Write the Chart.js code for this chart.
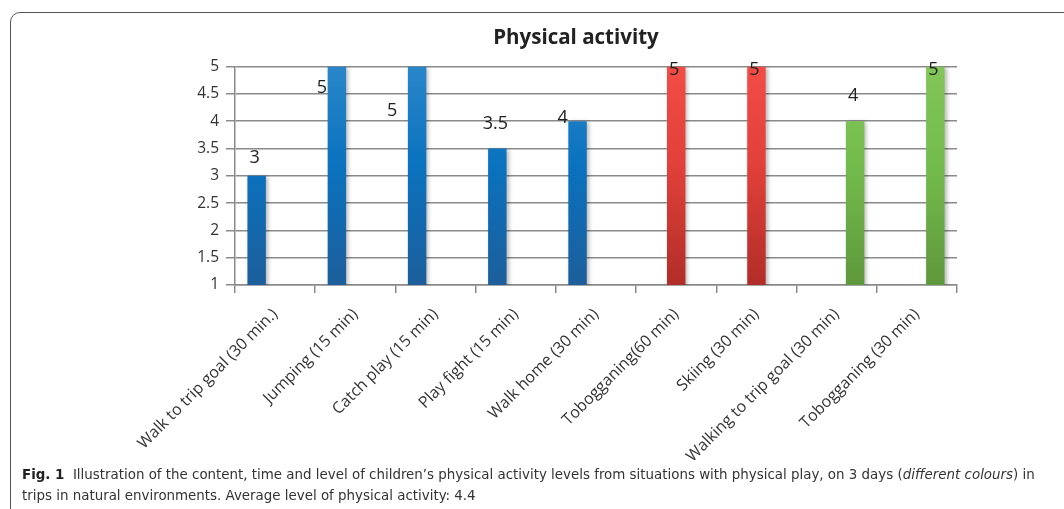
<!DOCTYPE html>
<html>
<head>
<meta charset="utf-8">
<script src="https://cdn.jsdelivr.net/npm/chart.js@4.4.0/dist/chart.umd.min.js"></script>
<style>
  html, body { margin: 0; padding: 0; background: #fff; overflow: hidden; }
  body { width: 1064px; height: 509px; position: relative; }
  #frame {
    position: absolute; left: 10px; top: 12px; width: 1100px; height: 560px;
    border: 1px solid #555; border-radius: 10px; box-sizing: border-box;
  }
  #wrap { position: absolute; left: 74px; top: 14px; width: 990px; height: 470px; }
  #caption {
    position: absolute; left: 22px; top: 464px; width: 1042px;
    font-family: "DejaVu Sans Condensed", "Liberation Sans Narrow", "Open Sans", sans-serif;
    font-size: 14.9px; line-height: 21px; color: #333;
  }
  #caption b { color: #222; }
</style>
</head>
<body>
<div id="frame"></div>
<div id="wrap"><canvas id="activityChart"></canvas></div>
<div id="caption"><b>Fig. 1</b>&nbsp; Illustration of the content, time and level of children’s physical activity levels from situations with physical play, on 3 days (<i>different colours</i>) in trips in natural environments. Average level of physical activity: 4.4</div>

<script>
// Activities, in the order they happened over the three days
const activities = [
  "Walk to trip goal (30 min.)",
  "Jumping (15 min)",
  "Catch play (15 min)",
  "Play fight (15 min)",
  "Walk home (30 min)",
  "Tobogganing(60 min)",
  "Skiing (30 min)",
  "Walking to trip goal (30 min)",
  "Tobogganing (30 min)",
];

// Activity level per day (null where that day has no activity)
const day1Levels = [3, 5, 5, 3.5, 4, null, null, null, null];
const day2Levels = [null, null, null, null, null, 5, 5, null, null];
const day3Levels = [null, null, null, null, null, null, null, 4, 5];

const yTicks = [1, 1.5, 2, 2.5, 3, 3.5, 4, 4.5, 5];

// Where each value label sits relative to the top of its bar (px)
const labelShift = [
  [-2, -18], [-15, 21], [-25, 44], [-2, -25], [-15, -3],
  [-2, 3], [-2, 3], [-2, -25], [-2, 3],
];

const gridColor = "#8a8a8a";

function barGradient(stops) {
  return (ctx) => {
    const area = ctx.chart.chartArea;
    if (!area) return stops[1];
    const g = ctx.chart.ctx.createLinearGradient(0, area.top, 0, area.bottom);
    g.addColorStop(0, stops[0]);
    g.addColorStop(0.45, stops[1]);
    g.addColorStop(1, stops[2]);
    return g;
  };
}

// Soft shadow behind the bars, then the value labels on top
const barDecor = {
  id: "barDecor",
  beforeDatasetsDraw(chart) {
    const c = chart.ctx;
    c.save();
    c.shadowColor = "rgba(0,0,0,0.28)";
    c.shadowBlur = 4;
    c.shadowOffsetX = 2;
    c.shadowOffsetY = 1;
  },
  afterDatasetsDraw(chart) {
    const c = chart.ctx;
    c.restore();
    c.save();
    c.font = '18px "Open Sans", sans-serif';
    c.fillStyle = "#222";
    c.textAlign = "center";
    c.textBaseline = "middle";
    chart.data.datasets.forEach((ds, di) => {
      const meta = chart.getDatasetMeta(di);
      ds.data.forEach((v, i) => {
        if (v === null) return;
        const bar = meta.data[i];
        const [dx, dy] = labelShift[i];
        c.fillText(String(v), bar.x + dx, bar.y + dy);
      });
    });
    c.restore();
  },
};

const chartCtx = document.getElementById("activityChart").getContext("2d");
new Chart(chartCtx, {
  type: "bar",
  data: {
    labels: activities,
    datasets: [
      {
        label: "Day 1",
        data: day1Levels,
        backgroundColor: barGradient(["#2a86c9", "#0a72bf", "#1d5e9b"]),
      },
      {
        label: "Day 2",
        data: day2Levels,
        backgroundColor: barGradient(["#f24c45", "#e2403a", "#b22d28"]),
      },
      {
        label: "Day 3",
        data: day3Levels,
        backgroundColor: barGradient(["#82c558", "#74bb4d", "#5e983c"]),
      },
    ],
  },
  options: {
    responsive: true,
    maintainAspectRatio: false,
    animation: false,
    categoryPercentage: 0.69,
    barPercentage: 1,
    layout: { padding: { left: 121, right: 107, top: 0, bottom: 6 } },
    plugins: {
      legend: { display: false },
      tooltip: { enabled: false },
      title: {
        display: true,
        text: "Physical activity",
        color: "#222",
        font: { family: "Open Sans", size: 20.5, weight: "bold" },
        padding: { top: 12, bottom: 16 },
      },
    },
    scales: {
      x: {
        grid: {
          drawOnChartArea: false,
          drawTicks: true,
          tickLength: 8,
          color: gridColor,
          lineWidth: 1.5,
        },
        border: { color: gridColor, width: 1.5 },
        ticks: {
          minRotation: 45,
          maxRotation: 45,
          color: "#333",
          padding: 12,
          font: { family: "Open Sans", size: 16 },
        },
      },
      y: {
        min: 1,
        max: 5,
        afterFit(scale) {
          scale.width = 40;
        },
        afterBuildTicks(scale) {
          scale.ticks = yTicks.map((v) => ({ value: v }));
        },
        grid: { color: gridColor, lineWidth: 1.5, tickLength: 9 },
        border: { color: gridColor, width: 1.5 },
        ticks: {
          color: "#333",
          padding: 7,
          font: { family: "Open Sans", size: 15.5 },
          callback: (v) => String(v),
        },
      },
    },
  },
  plugins: [barDecor],
});
</script>
</body>
</html>
